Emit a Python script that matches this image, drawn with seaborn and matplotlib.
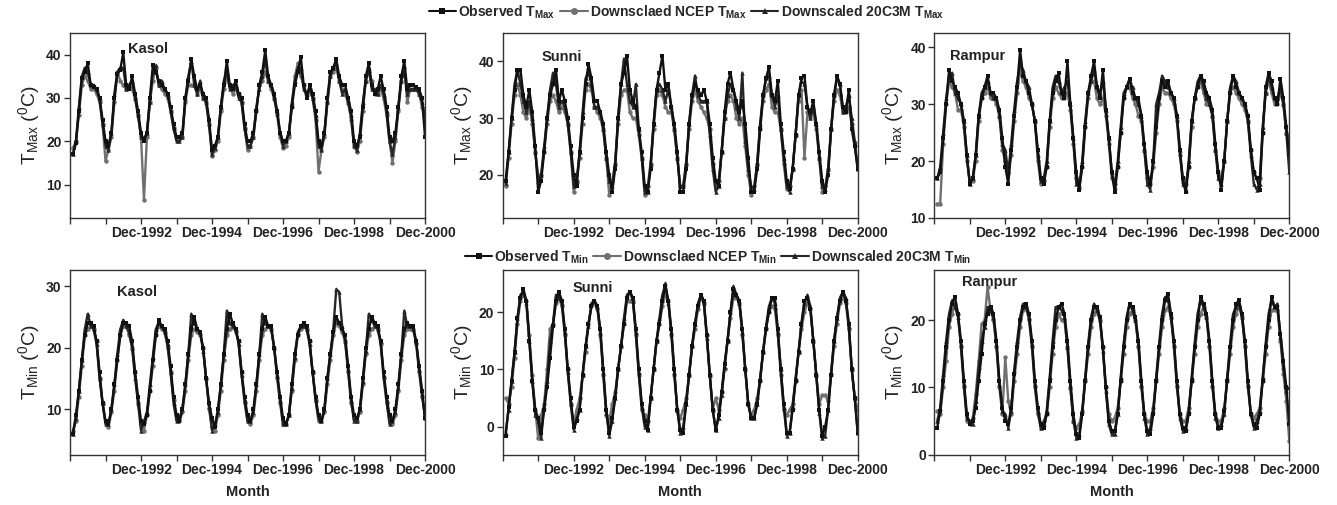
import numpy as np
import pandas as pd
import matplotlib
matplotlib.use("Agg")
import matplotlib.pyplot as plt
from matplotlib.lines import Line2D
import seaborn as sns

# ---------------- data (monthly, Jan-1991 ... Dec-2000) ----------------
tick_labels = ["Dec-1992", "Dec-1994", "Dec-1996", "Dec-1998", "Dec-2000"]
stations = ["Kasol", "Sunni", "Rampur"]
series_names = ["Observed", "Downsclaed NCEP", "Downscaled 20C3M"]

kasol_tmax_obs = [
    17.0, 19.5, 27.0, 34.5, 36.0, 38.0, 33.0, 32.5, 32.0, 30.0, 25.0, 20.0,
    19.0, 22.0, 30.0, 35.5, 36.5, 40.5, 33.0, 32.0, 35.0, 31.0, 27.0, 22.0,
    20.0, 22.0, 30.0, 37.5, 36.0, 34.0, 33.0, 32.0, 31.0, 28.0, 24.0, 21.0,
    21.0, 22.0, 30.0, 34.0, 39.0, 35.0, 32.0, 33.0, 31.0, 30.0, 25.0, 18.0,
    19.0, 21.0, 28.0, 33.0, 38.5, 33.0, 32.0, 34.0, 31.0, 30.0, 24.0, 20.0,
    20.0, 22.0, 27.0, 33.0, 36.0, 41.0, 35.0, 33.0, 31.0, 27.0, 22.0, 20.0,
    20.0, 22.0, 28.0, 33.0, 36.0, 39.5, 33.0, 30.0, 33.0, 31.0, 27.0, 20.0,
    19.0, 22.0, 30.0, 36.0, 37.0, 39.0, 35.0, 33.0, 33.0, 30.0, 27.0, 20.0,
    19.0, 21.0, 28.0, 35.0, 38.0, 33.0, 31.0, 32.0, 35.0, 32.0, 28.0, 21.0,
    20.0, 22.0, 28.0, 35.0, 38.5, 32.0, 33.0, 33.0, 32.5, 32.0, 30.0, 21.0]
kasol_tmax_ncep = [
    18.5, 20.0, 26.0, 33.0, 35.0, 34.0, 32.0, 32.0, 31.0, 29.0, 24.0, 15.5,
    18.0, 21.0, 29.0, 36.0, 34.0, 33.0, 32.0, 33.0, 32.0, 30.0, 26.0, 21.0,
    6.5, 21.0, 29.0, 34.0, 37.0, 33.0, 32.0, 31.0, 30.0, 27.0, 23.0, 20.5,
    20.5, 21.0, 29.0, 33.0, 33.0, 33.0, 31.0, 32.0, 30.0, 29.0, 24.0, 16.5,
    18.0, 20.0, 27.0, 32.0, 35.0, 33.0, 31.0, 32.0, 31.0, 29.0, 23.0, 18.0,
    19.0, 21.0, 27.0, 33.0, 34.0, 36.0, 34.0, 32.0, 30.0, 26.0, 21.0, 18.5,
    19.0, 21.0, 28.0, 35.0, 38.0, 35.0, 33.0, 31.0, 32.0, 30.0, 25.0, 13.0,
    18.0, 21.0, 29.0, 35.0, 36.0, 37.0, 34.0, 32.0, 31.0, 29.0, 25.0, 19.0,
    17.5, 20.0, 27.0, 34.0, 36.0, 34.0, 31.0, 31.0, 32.0, 30.0, 26.0, 20.0,
    15.0, 20.0, 27.0, 34.0, 37.0, 29.0, 32.0, 32.0, 32.0, 31.0, 28.0, 24.0]
kasol_tmax_gcm = [
    17.0, 20.0, 28.0, 35.0, 37.0, 36.0, 33.0, 33.0, 32.0, 30.0, 24.0, 19.0,
    18.0, 22.0, 31.0, 36.0, 37.0, 37.0, 32.0, 33.0, 34.0, 30.0, 26.0, 21.0,
    20.5, 22.0, 29.0, 36.0, 37.5, 33.0, 34.0, 32.0, 31.0, 27.0, 23.0, 20.0,
    20.0, 21.0, 30.0, 35.0, 38.5, 33.0, 31.0, 34.0, 30.0, 29.0, 24.0, 17.0,
    18.5, 21.0, 28.0, 34.0, 36.0, 32.0, 33.0, 33.0, 30.0, 29.0, 23.0, 19.0,
    19.0, 21.0, 28.0, 32.0, 35.0, 39.0, 34.0, 33.0, 30.0, 27.0, 22.0, 19.0,
    20.0, 22.0, 29.0, 34.0, 37.0, 37.0, 32.0, 31.0, 32.0, 30.0, 26.0, 19.0,
    18.0, 22.0, 29.0, 35.0, 37.0, 38.0, 34.0, 31.0, 32.0, 29.0, 26.0, 19.0,
    18.0, 22.0, 29.0, 34.0, 37.0, 32.0, 32.0, 31.0, 33.0, 31.0, 27.0, 20.0,
    17.0, 21.0, 28.0, 34.0, 36.0, 31.0, 32.0, 32.0, 32.0, 31.0, 29.0, 26.0]

sunni_tmax_obs = [
    19.0, 24.0, 30.0, 35.0, 38.5, 38.5, 34.0, 32.0, 35.0, 31.0, 25.0, 17.0,
    19.0, 24.0, 30.0, 34.0, 36.0, 38.5, 33.0, 35.0, 33.0, 30.0, 25.0, 20.0,
    18.0, 24.0, 30.0, 36.0, 39.5, 37.0, 33.0, 33.0, 31.0, 29.0, 24.0, 20.0,
    17.0, 21.0, 30.0, 36.0, 38.0, 41.0, 35.0, 33.0, 32.0, 28.0, 24.0, 18.0,
    17.0, 21.0, 29.0, 35.0, 38.0, 41.0, 35.0, 36.0, 32.0, 29.0, 24.0, 17.0,
    17.0, 21.0, 29.0, 34.0, 36.0, 35.0, 34.0, 35.0, 33.0, 29.0, 23.0, 19.0,
    18.0, 24.0, 31.0, 36.0, 38.0, 35.0, 33.0, 31.0, 33.0, 29.0, 23.0, 17.0,
    17.0, 21.0, 28.0, 34.0, 37.0, 39.0, 34.0, 33.0, 36.5, 29.0, 24.0, 19.0,
    17.5, 21.0, 27.0, 34.0, 37.0, 37.5, 32.0, 31.0, 33.0, 29.0, 24.0, 19.0,
    17.0, 20.0, 28.0, 34.0, 37.5, 36.0, 32.0, 31.0, 35.0, 28.0, 25.0, 21.0]
sunni_tmax_ncep = [
    18.0, 23.0, 29.0, 34.0, 36.0, 34.0, 31.0, 30.0, 32.0, 29.0, 24.0, 20.0,
    20.0, 24.0, 29.0, 33.0, 34.0, 33.0, 31.0, 32.0, 31.0, 29.0, 24.0, 17.0,
    19.0, 23.0, 29.0, 35.0, 36.0, 35.0, 32.0, 31.0, 30.0, 28.0, 23.0, 16.5,
    19.0, 22.0, 29.0, 34.0, 35.0, 35.0, 31.0, 30.0, 30.0, 27.0, 23.0, 16.5,
    18.0, 22.0, 28.0, 34.0, 35.0, 34.0, 32.0, 31.0, 31.0, 28.0, 23.0, 18.0,
    18.0, 22.0, 28.0, 33.0, 35.0, 33.0, 32.0, 31.0, 30.0, 28.0, 22.0, 18.0,
    19.0, 24.0, 30.0, 33.0, 34.0, 33.0, 30.0, 29.0, 30.0, 25.0, 20.0, 16.5,
    18.0, 22.0, 28.0, 33.0, 35.0, 36.0, 32.0, 31.0, 31.0, 28.0, 22.0, 17.5,
    18.0, 21.0, 27.0, 33.0, 35.0, 23.0, 31.0, 30.0, 31.0, 28.0, 23.0, 17.0,
    18.0, 21.0, 28.0, 33.0, 35.0, 34.0, 31.0, 31.0, 32.0, 29.0, 25.0, 22.0]
sunni_tmax_gcm = [
    18.5, 24.0, 30.0, 36.0, 38.5, 36.0, 33.0, 31.0, 33.0, 30.0, 24.0, 19.0,
    20.0, 25.0, 30.0, 35.0, 38.0, 36.0, 32.0, 33.0, 32.0, 29.0, 24.0, 18.0,
    19.0, 24.0, 31.0, 37.0, 38.0, 36.0, 32.0, 32.0, 31.0, 28.0, 23.0, 19.0,
    18.0, 22.0, 30.0, 36.0, 40.5, 36.0, 33.0, 32.0, 36.0, 28.0, 23.0, 17.0,
    17.0, 22.0, 29.0, 35.0, 36.0, 35.0, 33.0, 35.0, 32.0, 28.0, 23.0, 18.0,
    18.0, 22.0, 29.0, 34.0, 37.5, 34.0, 33.0, 33.0, 33.0, 27.0, 21.0, 17.0,
    18.0, 24.0, 30.0, 34.0, 36.0, 35.0, 32.0, 30.0, 38.0, 26.0, 21.0, 18.0,
    17.5, 22.0, 29.0, 34.0, 37.0, 37.5, 34.0, 32.0, 34.0, 28.0, 23.0, 18.0,
    17.0, 21.0, 27.0, 34.0, 36.5, 36.0, 32.0, 30.0, 32.0, 29.0, 23.0, 18.0,
    17.5, 21.0, 28.0, 34.0, 37.0, 36.0, 31.0, 32.0, 34.0, 30.0, 26.0, 21.0]

rampur_tmax_obs = [
    17.0, 18.0, 24.0, 30.0, 36.0, 34.0, 33.0, 32.0, 30.0, 27.0, 21.0, 16.0,
    17.0, 21.0, 28.0, 31.0, 33.0, 35.0, 32.0, 32.0, 31.0, 29.0, 24.0, 19.0,
    16.0, 22.0, 28.0, 33.0, 39.5, 35.0, 34.0, 32.0, 30.0, 27.0, 22.0, 17.0,
    16.0, 19.0, 27.0, 32.0, 34.0, 35.5, 32.0, 31.0, 37.5, 30.0, 24.0, 18.0,
    15.0, 19.0, 26.0, 32.0, 35.0, 37.5, 33.0, 31.0, 36.0, 29.0, 24.0, 18.0,
    14.5, 19.0, 25.0, 31.0, 33.0, 34.5, 32.0, 31.0, 31.0, 28.0, 23.0, 18.0,
    16.0, 20.0, 26.0, 31.0, 34.0, 33.0, 34.0, 32.0, 31.0, 28.0, 22.0, 17.0,
    14.5, 19.0, 27.0, 31.0, 33.0, 35.0, 34.0, 32.0, 31.0, 29.0, 23.0, 18.0,
    15.0, 20.0, 27.0, 32.0, 35.0, 33.0, 32.0, 31.0, 30.0, 28.0, 22.0, 18.0,
    17.0, 15.0, 25.0, 33.0, 35.5, 34.0, 31.0, 30.0, 34.5, 31.0, 26.0, 21.0]
rampur_tmax_ncep = [
    12.5, 12.5, 23.0, 30.0, 34.0, 33.0, 32.0, 29.0, 29.0, 26.0, 20.0, 16.5,
    16.5, 20.0, 27.0, 31.0, 32.0, 33.0, 31.0, 31.0, 30.0, 28.0, 22.0, 20.0,
    18.0, 21.0, 27.0, 32.0, 36.0, 34.0, 33.0, 31.0, 30.0, 27.0, 20.0, 16.0,
    16.5, 19.0, 26.0, 31.0, 33.0, 32.0, 31.0, 31.0, 32.0, 29.0, 23.0, 17.0,
    15.5, 19.0, 26.0, 31.0, 34.0, 34.0, 31.0, 30.0, 31.0, 28.0, 23.0, 17.0,
    16.0, 19.0, 25.0, 31.0, 33.0, 33.0, 31.0, 30.0, 28.0, 27.0, 22.0, 17.0,
    16.0, 19.0, 25.0, 30.0, 33.0, 32.0, 32.0, 31.0, 30.0, 27.0, 21.0, 17.0,
    16.0, 19.0, 26.0, 31.0, 33.0, 34.0, 32.0, 30.0, 30.0, 28.0, 22.0, 18.0,
    17.0, 20.0, 27.0, 32.0, 33.0, 32.0, 31.0, 30.0, 29.0, 27.0, 22.0, 18.0,
    17.0, 17.0, 25.0, 32.0, 34.0, 32.0, 30.0, 30.0, 32.0, 30.0, 25.0, 24.0]
rampur_tmax_gcm = [
    17.0, 19.0, 25.0, 31.0, 35.0, 35.5, 32.0, 31.0, 30.0, 27.0, 21.0, 16.0,
    17.0, 21.0, 28.0, 32.0, 33.0, 34.0, 32.0, 31.0, 31.0, 28.0, 23.0, 22.0,
    18.0, 23.0, 29.0, 34.0, 37.0, 36.0, 34.0, 33.0, 30.0, 27.0, 21.0, 16.5,
    17.0, 20.0, 27.0, 33.0, 35.0, 34.0, 32.0, 33.0, 34.0, 30.0, 24.0, 16.0,
    15.5, 20.0, 27.0, 32.0, 34.0, 36.0, 33.0, 32.0, 34.0, 29.0, 24.0, 18.0,
    15.5, 20.0, 26.0, 32.0, 33.0, 34.0, 33.0, 31.0, 30.0, 28.0, 22.0, 16.0,
    15.0, 20.0, 30.0, 32.0, 35.0, 34.0, 33.0, 32.0, 31.0, 28.0, 22.0, 16.0,
    15.0, 20.0, 27.0, 31.0, 34.0, 35.0, 33.0, 31.0, 30.0, 28.0, 22.0, 17.0,
    16.0, 20.0, 27.0, 33.0, 35.0, 34.0, 32.0, 31.0, 30.0, 27.0, 21.0, 16.0,
    15.0, 16.0, 26.0, 32.0, 35.0, 33.0, 31.0, 31.0, 33.0, 30.0, 25.0, 18.0]

kasol_tmin_obs = [
    6.0, 9.0, 13.0, 18.0, 22.0, 24.0, 24.0, 23.5, 21.0, 16.0, 11.0, 8.0,
    7.5, 10.0, 14.0, 18.0, 22.0, 24.0, 24.0, 23.5, 21.0, 16.0, 12.0, 8.0,
    7.5, 9.0, 13.0, 18.0, 22.0, 24.5, 23.5, 23.0, 21.0, 17.0, 12.0, 9.0,
    8.0, 10.0, 14.0, 19.0, 23.0, 25.0, 23.0, 22.5, 20.0, 15.0, 11.0, 8.5,
    7.0, 10.0, 14.0, 19.0, 23.0, 25.5, 24.0, 23.0, 21.0, 16.0, 12.0, 9.0,
    8.0, 10.0, 14.0, 19.0, 23.0, 25.0, 23.5, 23.5, 20.0, 16.0, 12.0, 8.5,
    7.5, 9.0, 14.0, 19.0, 22.0, 23.5, 24.0, 23.5, 21.0, 16.0, 12.0, 9.0,
    8.0, 10.0, 15.0, 19.0, 22.5, 25.0, 24.0, 23.0, 22.0, 17.0, 12.0, 9.0,
    8.5, 10.0, 15.0, 20.0, 23.0, 25.0, 24.0, 23.5, 21.0, 16.0, 12.0, 9.0,
    8.0, 10.0, 14.0, 19.0, 23.0, 24.0, 23.5, 23.5, 21.0, 17.0, 13.0, 8.5]
kasol_tmin_ncep = [
    6.5, 8.0, 12.0, 17.0, 22.0, 23.0, 23.5, 23.0, 21.0, 15.0, 11.0, 8.0,
    7.0, 9.5, 13.0, 18.0, 22.0, 23.5, 23.5, 22.0, 20.0, 16.0, 11.0, 7.5,
    6.5, 9.0, 13.0, 17.0, 22.0, 23.5, 23.0, 22.5, 20.0, 16.0, 11.5, 8.5,
    8.0, 9.5, 13.0, 18.0, 22.0, 23.0, 22.5, 22.0, 20.0, 15.0, 10.0, 7.0,
    6.5, 9.0, 13.0, 18.0, 22.0, 23.0, 23.5, 22.5, 21.0, 16.0, 11.0, 8.0,
    7.5, 9.0, 13.0, 18.0, 22.0, 23.0, 23.5, 23.0, 20.0, 15.0, 11.0, 7.5,
    7.5, 9.0, 13.0, 18.0, 22.0, 23.0, 23.5, 23.0, 21.0, 16.0, 11.5, 8.0,
    8.0, 9.5, 14.0, 18.0, 22.0, 24.0, 23.5, 22.5, 21.0, 16.0, 11.0, 8.5,
    8.0, 9.5, 14.0, 19.0, 22.0, 23.0, 23.5, 23.0, 20.5, 15.0, 11.0, 8.0,
    7.5, 9.0, 13.0, 18.0, 22.0, 23.0, 23.0, 23.0, 20.5, 16.0, 12.0, 9.0]
kasol_tmin_gcm = [
    6.0, 8.5, 13.0, 18.0, 23.0, 25.5, 23.5, 23.0, 20.5, 15.0, 11.0, 7.5,
    7.5, 10.0, 14.0, 19.0, 23.0, 24.5, 23.5, 22.5, 20.0, 15.0, 11.0, 6.5,
    8.0, 9.5, 14.0, 18.5, 23.0, 24.0, 23.5, 22.5, 20.5, 16.0, 11.0, 8.0,
    8.5, 10.0, 14.0, 19.0, 25.5, 24.0, 23.0, 22.5, 19.5, 15.0, 10.5, 6.5,
    7.5, 9.5, 14.0, 19.0, 26.0, 24.0, 23.5, 23.0, 20.5, 15.5, 11.5, 8.0,
    8.0, 9.5, 14.0, 19.0, 25.5, 24.0, 23.5, 23.0, 20.0, 15.5, 11.5, 7.5,
    7.5, 9.0, 13.5, 18.5, 22.5, 23.5, 23.5, 23.0, 20.5, 16.0, 11.5, 8.5,
    8.0, 10.0, 15.0, 19.0, 23.0, 29.5, 29.0, 23.5, 21.0, 16.5, 11.5, 8.0,
    8.0, 10.0, 14.5, 19.5, 25.5, 24.5, 23.5, 23.0, 21.0, 15.5, 11.5, 7.5,
    8.0, 9.5, 13.5, 19.0, 26.0, 23.5, 23.5, 23.0, 21.0, 16.5, 12.5, 8.5]

sunni_tmin_obs = [
    -1.5, 3.5, 8.0, 13.0, 19.0, 22.5, 24.0, 22.0, 15.0, 8.0, 3.0, 1.5,
    -1.0, 3.0, 7.0, 12.0, 17.5, 22.0, 23.5, 22.0, 17.0, 10.0, 5.0, 0.0,
    1.0, 3.0, 9.0, 14.0, 18.0, 21.0, 22.0, 21.0, 17.0, 10.0, 3.0, -1.0,
    1.5, 5.0, 10.0, 14.0, 18.0, 22.5, 23.5, 22.5, 17.0, 10.0, 4.0, 1.0,
    -0.5, 5.0, 10.0, 15.0, 18.0, 22.0, 24.5, 22.0, 17.0, 10.0, 3.0, -0.5,
    -1.0, 4.0, 9.0, 14.0, 18.0, 21.0, 23.0, 22.0, 16.0, 9.0, 3.0, -0.5,
    2.0, 6.0, 11.0, 15.0, 20.0, 24.0, 23.0, 22.0, 17.0, 10.0, 4.0, 1.5,
    1.5, 4.0, 8.0, 13.0, 17.0, 20.0, 22.5, 22.5, 17.0, 10.0, 4.0, -1.0,
    -1.0, 3.0, 8.0, 13.0, 18.0, 22.0, 22.5, 20.5, 15.0, 9.0, 3.0, -1.5,
    0.0, 3.0, 9.0, 15.0, 19.0, 22.0, 23.5, 22.0, 18.0, 10.0, 5.0, -1.0]
sunni_tmin_ncep = [
    5.0, 4.0, 7.0, 12.0, 18.0, 22.0, 23.0, 22.0, 16.0, 9.0, 3.0, -2.0,
    2.0, 4.0, 10.0, 17.0, 18.0, 21.5, 22.5, 21.0, 16.0, 10.0, 4.0, 0.5,
    3.0, 5.0, 9.0, 13.0, 18.0, 21.0, 21.5, 20.5, 16.0, 9.0, 2.0, 1.0,
    4.0, 6.0, 10.0, 14.0, 18.0, 22.0, 22.0, 22.0, 16.0, 9.0, 3.0, 2.0,
    1.0, 5.0, 10.0, 15.0, 18.0, 21.0, 23.0, 22.0, 16.0, 9.0, 3.0, 1.5,
    3.0, 5.0, 9.0, 14.0, 17.0, 20.5, 22.5, 21.5, 16.0, 9.0, 3.0, 5.0,
    3.0, 6.0, 10.0, 15.0, 19.0, 22.5, 22.5, 21.5, 16.0, 10.0, 4.0, 2.0,
    3.0, 5.0, 8.0, 13.0, 17.0, 20.0, 21.0, 20.5, 16.0, 9.0, 3.0, 2.0,
    3.0, 4.0, 8.0, 13.0, 17.0, 20.0, 21.5, 20.5, 15.0, 9.0, 4.0, 5.5,
    5.5, 4.5, 9.0, 14.0, 18.0, 21.5, 22.5, 21.5, 17.0, 10.0, 5.0, 3.0]
sunni_tmin_gcm = [
    -1.0, 3.0, 8.0, 13.0, 19.0, 23.0, 23.5, 21.5, 15.0, 8.0, 2.0, 1.0,
    -2.0, 3.5, 8.0, 15.0, 18.0, 23.0, 22.5, 21.5, 16.5, 9.5, 4.0, -0.5,
    1.5, 3.0, 9.0, 14.0, 17.5, 21.5, 22.0, 21.0, 16.5, 9.5, 2.5, -1.5,
    1.0, 5.0, 10.0, 14.0, 19.0, 23.0, 23.5, 22.0, 16.5, 9.5, 3.5, 0.0,
    -0.5, 5.0, 10.0, 15.0, 19.0, 23.0, 25.0, 21.5, 16.5, 9.5, 3.0, -1.0,
    0.0, 4.0, 9.0, 14.0, 18.0, 21.5, 23.0, 21.5, 15.5, 9.0, 3.0, -0.5,
    1.5, 5.5, 10.5, 15.0, 20.0, 24.5, 23.0, 21.5, 16.5, 10.0, 4.0, 1.5,
    1.5, 4.0, 8.5, 13.0, 17.5, 21.0, 22.5, 21.5, 16.5, 10.0, 3.5, -1.5,
    -1.0, 3.5, 8.5, 13.0, 18.0, 21.5, 23.0, 21.0, 15.0, 9.0, 2.5, -2.0,
    -1.5, 3.0, 9.5, 15.0, 19.0, 22.5, 23.5, 22.5, 17.5, 10.0, 5.0, -1.0]

rampur_tmin_obs = [
    4.0, 6.5, 11.0, 16.0, 20.0, 22.5, 23.5, 21.0, 17.0, 11.0, 6.0, 4.5,
    5.0, 7.0, 11.0, 15.0, 19.5, 21.0, 22.0, 21.0, 17.0, 11.0, 7.0, 5.0,
    4.5, 7.0, 12.0, 16.0, 20.0, 22.0, 22.5, 21.0, 17.0, 11.0, 7.0, 4.5,
    4.0, 6.0, 11.0, 16.0, 20.0, 22.0, 22.5, 21.0, 17.0, 11.0, 6.0, 3.0,
    2.5, 6.0, 11.0, 16.0, 20.0, 22.0, 22.0, 20.5, 16.0, 10.0, 5.0, 3.5,
    3.5, 6.0, 11.0, 16.0, 20.0, 22.5, 22.0, 20.5, 17.0, 11.0, 6.0, 3.5,
    3.0, 6.0, 11.0, 16.0, 20.0, 23.0, 24.0, 21.0, 17.0, 11.0, 6.0, 4.0,
    3.5, 6.0, 11.0, 16.0, 20.0, 23.5, 22.5, 21.0, 17.0, 11.0, 6.0, 4.0,
    4.0, 6.5, 11.0, 16.0, 20.0, 22.5, 23.0, 21.0, 17.0, 11.0, 6.0, 4.5,
    4.0, 6.0, 11.0, 16.0, 20.0, 23.5, 22.0, 22.0, 18.0, 14.0, 10.0, 4.5]
rampur_tmin_ncep = [
    6.5, 6.0, 10.0, 14.0, 19.0, 21.0, 22.5, 21.0, 16.0, 10.0, 5.0, 4.5,
    5.5, 9.0, 14.0, 19.5, 20.0, 25.0, 21.5, 20.0, 16.0, 10.0, 6.0, 14.5,
    8.0, 6.0, 11.0, 15.0, 19.0, 21.5, 22.0, 20.0, 16.0, 10.0, 6.0, 4.0,
    5.0, 6.0, 10.0, 15.0, 19.0, 21.0, 20.0, 20.0, 16.0, 10.0, 5.0, 4.0,
    4.5, 6.5, 11.0, 15.0, 19.0, 21.0, 21.5, 20.0, 16.0, 10.0, 6.0, 5.0,
    5.5, 7.0, 11.0, 15.0, 19.0, 21.0, 21.5, 20.0, 16.0, 10.0, 6.0, 5.0,
    5.0, 7.0, 11.0, 15.0, 19.0, 21.5, 22.0, 20.5, 16.0, 10.0, 6.0, 5.0,
    5.0, 7.0, 11.0, 15.0, 19.0, 21.0, 22.0, 20.5, 16.0, 10.0, 6.0, 5.0,
    5.0, 7.0, 11.0, 15.0, 19.0, 21.0, 22.0, 20.5, 16.0, 10.0, 6.0, 5.5,
    6.0, 7.0, 11.0, 15.0, 19.0, 21.5, 21.5, 21.5, 17.0, 12.0, 8.0, 2.0]
rampur_tmin_gcm = [
    5.0, 7.0, 12.0, 17.0, 21.0, 23.0, 22.0, 20.5, 16.5, 10.5, 5.5, 5.0,
    4.5, 8.0, 13.0, 17.0, 19.0, 22.0, 21.5, 20.5, 16.5, 10.5, 6.5, 6.0,
    4.0, 6.5, 12.5, 17.0, 20.5, 22.5, 22.0, 20.5, 16.5, 10.5, 6.5, 4.0,
    4.5, 6.5, 11.5, 17.0, 22.0, 22.0, 21.5, 20.5, 16.0, 10.0, 5.0, 2.5,
    3.0, 6.5, 11.5, 16.5, 20.5, 22.5, 21.5, 20.0, 15.5, 9.5, 4.5, 3.0,
    3.0, 6.0, 11.5, 16.5, 20.5, 22.5, 21.5, 20.0, 16.5, 10.5, 5.5, 3.0,
    4.0, 6.5, 11.5, 16.5, 21.0, 23.5, 23.0, 20.5, 16.5, 10.5, 5.5, 3.5,
    4.0, 6.5, 11.5, 16.5, 21.0, 23.0, 22.0, 20.5, 16.5, 10.5, 5.5, 4.0,
    4.5, 6.0, 11.5, 16.5, 21.0, 22.0, 22.5, 20.5, 16.5, 10.5, 6.0, 4.0,
    5.0, 6.5, 11.5, 16.5, 21.0, 23.0, 22.0, 22.5, 17.5, 13.0, 9.5, 10.0]

panels = [
    ("Kasol", "Max", kasol_tmax_obs, kasol_tmax_ncep, kasol_tmax_gcm),
    ("Sunni", "Max", sunni_tmax_obs, sunni_tmax_ncep, sunni_tmax_gcm),
    ("Rampur", "Max", rampur_tmax_obs, rampur_tmax_ncep, rampur_tmax_gcm),
    ("Kasol", "Min", kasol_tmin_obs, kasol_tmin_ncep, kasol_tmin_gcm),
    ("Sunni", "Min", sunni_tmin_obs, sunni_tmin_ncep, sunni_tmin_gcm),
    ("Rampur", "Min", rampur_tmin_obs, rampur_tmin_ncep, rampur_tmin_gcm),
]

# ---------------- styling ----------------
sns.set_theme(style="white")
plt.rcParams["font.family"] = ["Liberation Sans", "DejaVu Sans"]
plt.rcParams["mathtext.default"] = "regular"

W, H = 1337, 505
fig = plt.figure(figsize=(W / 100, H / 100), dpi=100)

col_left = [70, 502.7, 934.3]
row_top = [33, 269.5]
ax_w, ax_h = 355, 185

ylims = [(2.3, 45), (12.4, 45), (10, 42.5), (2.6, 32.7), (-4.8, 27.4), (0, 27.6)]
yticks = [[10, 20, 30, 40], [20, 30, 40], [10, 20, 30, 40],
          [10, 20, 30], [0, 10, 20], [0, 10, 20]]
label_pos = [(0.163, 0.913), (0.11, 0.872), (0.044, 0.876),
             (0.132, 0.88), (0.197, 0.898), (0.077, 0.93)]

colors = {series_names[0]: "#111111", series_names[1]: "#707070", series_names[2]: "#262626"}
markers = {series_names[0]: "s", series_names[1]: "o", series_names[2]: "^"}
order = [series_names[1], series_names[2], series_names[0]]

months = np.arange(1, 121)

for i, (st, kind, obs, ncep, gcm) in enumerate(panels):
    r, c = divmod(i, 3)
    left = col_left[c] / W
    bottom = 1 - (row_top[r] + ax_h) / H
    ax = fig.add_axes([left, bottom, ax_w / W, ax_h / H])
    df = pd.DataFrame({
        "month": np.concatenate([months] * 3),
        "value": np.concatenate([obs, ncep, gcm]),
        "series": [series_names[0]] * 120 + [series_names[1]] * 120 + [series_names[2]] * 120,
    })
    sns.lineplot(data=df, x="month", y="value", hue="series", style="series",
                 hue_order=order, style_order=order, palette=colors, markers=markers,
                 dashes=False, markersize=3.2, markeredgewidth=0, linewidth=1.7,
                 legend=False, ax=ax)
    ax.set_xlim(0, 120)
    ax.set_ylim(*ylims[i])
    ax.set_yticks(yticks[i])
    ax.set_xticks([24, 48, 72, 96, 120])
    ax.set_xticklabels(tick_labels)
    ax.set_xticks([0, 12, 36, 60, 84, 108], minor=True)
    ax.tick_params(axis="both", which="major", direction="out", length=4, width=1,
                   color="#333333", labelsize=10, pad=2, bottom=True, left=True)
    ax.tick_params(axis="x", which="minor", direction="out", length=4, width=1,
                   color="#333333", bottom=True)
    for lab in ax.get_xticklabels() + ax.get_yticklabels():
        lab.set_fontweight("bold")
        lab.set_color("#222222")
    for sp in ax.spines.values():
        sp.set_color("#333333")
        sp.set_linewidth(1.0)
    ax.set_ylabel(f"T$_{{{kind}}}$ ($^{{0}}$C)", fontsize=14, color="#222222", labelpad=3)
    if r == 1:
        ax.set_xlabel("Month", fontsize=10.5, fontweight="bold", color="#222222", labelpad=6)
    else:
        ax.set_xlabel("")
    ax.text(label_pos[i][0], label_pos[i][1], st, transform=ax.transAxes,
            ha="left", va="center", fontsize=10.5, fontweight="bold", color="#222222")

# ---------------- legends ----------------
def make_handles():
    hs = []
    for name in series_names:
        hs.append(Line2D([0], [0], color=colors[name], marker=markers[name],
                         markersize=5, linewidth=1.5, markeredgewidth=0))
    return hs

for kind, cx, cy in [("Max", 686, 12), ("Min", 718, 257)]:
    labels = [f"Observed T$_{{{kind}}}$", f"Downsclaed NCEP T$_{{{kind}}}$",
              f"Downscaled 20C3M T$_{{{kind}}}$"]
    fig.legend(make_handles(), labels, loc="center", bbox_to_anchor=(cx / W, 1 - cy / H),
               ncol=3, frameon=False, handlelength=2.0, handletextpad=0.15,
               columnspacing=0.3, borderaxespad=0, borderpad=0,
               prop={"weight": "bold", "size": 10})

fig.savefig("out.png", dpi=100)
